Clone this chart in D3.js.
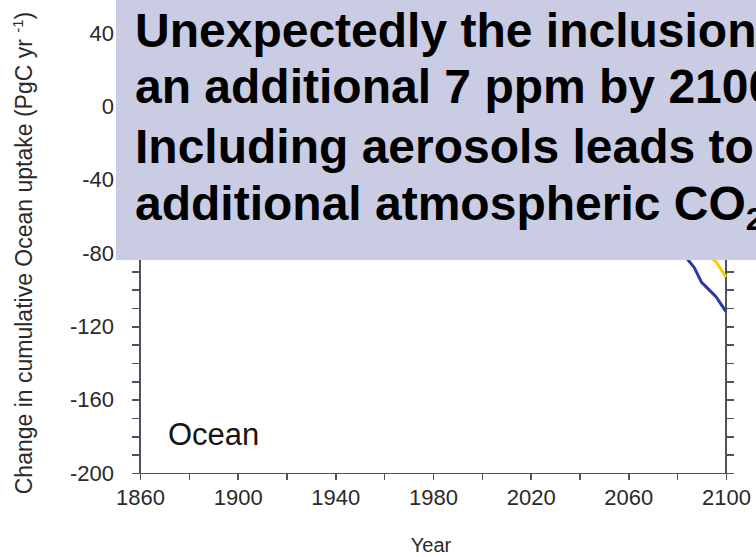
<!DOCTYPE html>
<html>
<head>
<meta charset="utf-8">
<script src="https://cdn.jsdelivr.net/npm/d3@7"></script>
<style>
  html, body { margin: 0; padding: 0; background: #ffffff; }
  svg { display: block; }
  .axis path, .axis line { stroke: #50505e; stroke-width: 1.4; shape-rendering: crispEdges; }
  .axis text { font-family: "Liberation Sans", Arial, sans-serif; font-size: 22px; fill: #2a2a2a; }
</style>
</head>
<body>
<svg id="chart" width="756" height="557"></svg>
<script>
// Years at which the cumulative ocean uptake difference is sampled
const years = [1860, 1870, 1880, 1890, 1900, 1910, 1920, 1930, 1940, 1950,
               1960, 1970, 1980, 1990, 2000, 2010, 2020, 2030, 2040, 2050,
               2060, 2070, 2080, 2084, 2087, 2090, 2093, 2096, 2098, 2100];

// Run including aerosols (blue)
const aerosolRun = [0, 0.4, -0.3, 0.5, 0.2, -0.6, -0.2, -1.0, -1.5, -2.2,
                    -3.5, -5, -7, -10, -14, -19, -25, -32, -40, -49,
                    -58, -68, -78, -83, -88, -96, -100, -104, -108, -112];

// Reference run (yellow)
const referenceRun = [0, -0.2, 0.3, -0.1, 0.4, 0, -0.4, -0.8, -1.2, -1.8,
                      -3, -4.5, -6, -8.5, -12, -16, -21, -27, -34, -41,
                      -49, -57, -66, -70, -74, -77, -81, -85, -89, -93];

const yMajorTicks = [-200, -160, -120, -80, -40, 0, 40];
const yMinorTicks = d3.range(-200, 41, 10);
const xMajorTicks = [1860, 1900, 1940, 1980, 2020, 2060, 2100];
const xMinorTicks = d3.range(1860, 2101, 20);

const yAxisTitle = "Change in cumulative Ocean uptake (PgC yr";
const yAxisSup = "-1";
const xAxisTitle = "Year";
const panelLabel = "Ocean";
// Callout lines; they run past the right edge of the slide
const noteLines = [
  "Unexpectedly the inclusion",
  "an additional 7 ppm by 2100",
  "Including aerosols leads to",
  "additional atmospheric CO"
];

const svg = d3.select("#chart");
const font = "'Liberation Sans', Arial, sans-serif";
const plain = d => String(d);   // hyphen-minus for negative labels

const x = d3.scaleLinear().domain([1860, 2100]).range([140, 726]);
const y = d3.scaleLinear().domain([-200, 40]).range([473, 33]);

// minor ticks (left and right), no labels
svg.append("g").attr("class", "axis")
  .attr("transform", "translate(140,0)")
  .call(d3.axisLeft(y).tickValues(yMinorTicks).tickSize(8).tickFormat(""))
  .call(g => g.select(".domain").attr("d", `M0,${y(60)}V${y(-200)}`));

svg.append("g").attr("class", "axis")
  .attr("transform", "translate(140,0)")
  .call(d3.axisLeft(y).tickValues(yMajorTicks).tickSize(8).tickPadding(18).tickFormat(plain))
  .call(g => g.select(".domain").remove());

svg.append("g").attr("class", "axis")
  .attr("transform", "translate(726,0)")
  .call(d3.axisRight(y).tickValues(yMinorTicks).tickSize(8).tickFormat(""))
  .call(g => g.select(".domain").attr("d", `M0,${y(60)}V${y(-200)}`));

svg.append("g").attr("class", "axis")
  .attr("transform", "translate(0,473)")
  .call(d3.axisBottom(x).tickValues(xMinorTicks).tickSize(7).tickFormat(""));

svg.append("g").attr("class", "axis")
  .attr("transform", "translate(0,473)")
  .call(d3.axisBottom(x).tickValues(xMajorTicks).tickSize(7).tickPadding(9).tickFormat(plain))
  .call(g => g.select(".domain").remove());

// series
const line = d3.line().x((d, i) => x(years[i])).y(d => y(d));

svg.append("path").datum(referenceRun)
  .attr("d", line).attr("fill", "none")
  .attr("stroke", "#ffc800").attr("stroke-width", 3).attr("stroke-linejoin", "round");

svg.append("path").datum(aerosolRun)
  .attr("d", line).attr("fill", "none")
  .attr("stroke", "#2b3aa2").attr("stroke-width", 3).attr("stroke-linejoin", "round");

// panel label
svg.append("text").attr("x", 168).attr("y", 445)
  .attr("font-family", font).attr("font-size", 31).attr("fill", "#151515")
  .text(panelLabel);

// axis titles
svg.append("text").attr("x", 431).attr("y", 552)
  .attr("text-anchor", "middle")
  .attr("font-family", font).attr("font-size", 20).attr("fill", "#2a2a2a")
  .text(xAxisTitle);

const yt = svg.append("text")
  .attr("transform", "translate(32,253) rotate(-90)")
  .attr("text-anchor", "middle")
  .attr("font-family", font).attr("font-size", 23).attr("fill", "#2a2a2a");
yt.append("tspan").text(yAxisTitle + " ");
yt.append("tspan").attr("dy", -9).attr("font-size", 15).text(yAxisSup);
yt.append("tspan").attr("dy", 9).text(")");

// note box
svg.append("rect").attr("x", 116).attr("y", -2)
  .attr("width", 700).attr("height", 262)
  .attr("fill", "#c9cce2");

const baselines = [47, 103, 163, 220];
noteLines.forEach((t, i) => {
  const tx = svg.append("text").attr("x", 135).attr("y", baselines[i])
    .attr("font-family", font).attr("font-weight", "bold")
    .attr("font-size", 48).attr("fill", "#000");
  tx.append("tspan").text(t);
  if (i === noteLines.length - 1) {
    tx.append("tspan").attr("font-size", 32).attr("dy", 10).text("2");
  }
});
</script>
</body>
</html>
